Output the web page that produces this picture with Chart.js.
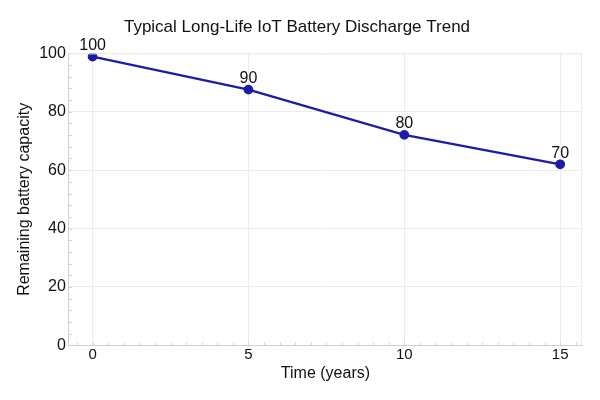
<!DOCTYPE html>
<html>
<head>
<meta charset="utf-8">
<script src="https://cdn.jsdelivr.net/npm/chart.js@4/dist/chart.umd.min.js"></script>
<style>
    html, body { margin: 0; padding: 0; background: #fff; }
    #wrap { width: 600px; height: 400px; }
</style>
</head>
<body>
<div id="wrap"><canvas id="lineChart"></canvas></div>
<script>
// data
var years = [0, 5, 10, 15];
var capacity = [98.9, 87.6, 72.1, 62.0];
var pointLabels = ['100', '90', '80', '70'];
var xTicks = [0, 5, 10, 15];
var yTicks = [0, 20, 40, 60, 80, 100];

var lineColor = '#1c1ca6';
var fontName = "'Liberation Sans', Arial, sans-serif";

// small grey minor ticks along left and bottom axes, plus faint top/right frame
var minorTicks = {
    id: 'minorTicks',
    afterDraw: function (chart) {
        var ctx = chart.ctx, xs = chart.scales.x, ys = chart.scales.y, a = chart.chartArea;
        ctx.save();
        ctx.strokeStyle = '#d4d4d4';
        ctx.lineWidth = 1;
        ctx.beginPath();
        for (var v = -0.5; v <= 15.5; v += 0.5) {
            var px = Math.round(xs.getPixelForValue(v)) + 0.5;
            if (px < a.left || px > a.right) continue;
            ctx.moveTo(px, a.bottom);
            ctx.lineTo(px, a.bottom - 3);
        }
        for (var w = 0; w <= 100; w += 4) {
            var py = Math.round(ys.getPixelForValue(w)) + 0.5;
            ctx.moveTo(a.left, py);
            ctx.lineTo(a.left + 3, py);
        }
        ctx.stroke();
        ctx.strokeStyle = '#ececec';
        ctx.beginPath();
        ctx.moveTo(a.left, a.top + 0.5);
        ctx.lineTo(a.right - 0.5, a.top + 0.5);
        ctx.lineTo(a.right - 0.5, a.bottom);
        ctx.stroke();
        ctx.restore();
    }
};

// value labels above the points
var pointText = {
    id: 'pointText',
    afterDatasetsDraw: function (chart) {
        var ctx = chart.ctx;
        var meta = chart.getDatasetMeta(0);
        ctx.save();
        ctx.fillStyle = '#111';
        ctx.font = '16px ' + fontName;
        ctx.textAlign = 'center';
        ctx.textBaseline = 'bottom';
        meta.data.forEach(function (pt, i) {
            ctx.fillText(pointLabels[i], pt.x, pt.y - 3);
        });
        ctx.restore();
    }
};

var data = [];
for (var i = 0; i < years.length; ++i) {
    data[i] = { x: years[i], y: capacity[i] };
}

new Chart(document.getElementById('lineChart').getContext('2d'), {
    type: 'line',
    data: {
        datasets: [{
            label: 'Remaining battery capacity',
            data: data,
            borderColor: lineColor,
            backgroundColor: lineColor,
            borderWidth: 2.2,
            pointRadius: 3.8,
            pointHoverRadius: 3.8,
            tension: 0,
            fill: false
        }]
    },
    options: {
        responsive: true,
        maintainAspectRatio: false,
        animation: false,
        layout: { padding: { left: 12, right: 18, top: 6, bottom: 13 } },
        plugins: {
            legend: { display: false },
            tooltip: { enabled: false },
            title: {
                display: true,
                text: 'Typical Long-Life IoT Battery Discharge Trend',
                color: '#111',
                font: { family: fontName, size: 17, weight: 'normal' },
                padding: { top: 11, bottom: 16 }
            }
        },
        scales: {
            x: {
                type: 'linear',
                min: -0.76,
                max: 15.7,
                afterBuildTicks: function (s) {
                    s.ticks = xTicks.map(function (v) { return { value: v }; });
                },
                grid: { color: '#ececec', drawTicks: false },
                border: { color: '#cfcfcf' },
                ticks: {
                    color: '#111',
                    padding: 1,
                    font: { family: fontName, size: 15, lineHeight: 1.1 }
                },
                title: {
                    display: true,
                    text: 'Time (years)',
                    color: '#111',
                    font: { family: fontName, size: 16 },
                    padding: { top: 0, bottom: 4 }
                }
            },
            y: {
                min: 0,
                max: 100,
                afterBuildTicks: function (s) {
                    s.ticks = yTicks.map(function (v) { return { value: v }; });
                },
                grid: { color: '#ececec', drawTicks: false },
                border: { color: '#cfcfcf' },
                ticks: {
                    color: '#111',
                    padding: 3,
                    font: { family: fontName, size: 16 }
                },
                title: {
                    display: true,
                    text: 'Remaining battery capacity',
                    color: '#111',
                    font: { family: fontName, size: 16 },
                    padding: { top: 3, bottom: 2 }
                }
            }
        }
    },
    plugins: [minorTicks, pointText]
});
</script>
</body>
</html>
